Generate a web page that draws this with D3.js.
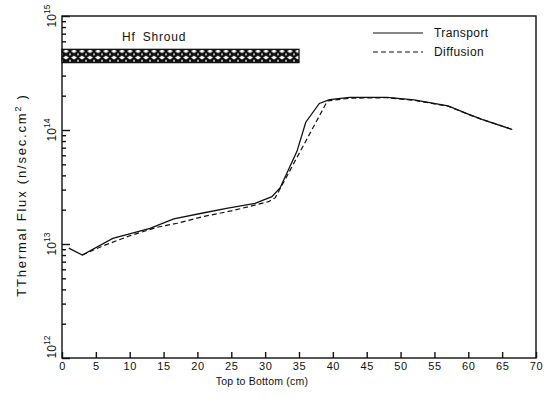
<!DOCTYPE html>
<html>
<head>
<meta charset="utf-8">
<script src="https://cdn.jsdelivr.net/npm/d3@7"></script>
<style>
  body { margin: 0; background: #fff; }
  text { font-family: "Liberation Sans", Arial, sans-serif; fill: #111; }
</style>
</head>
<body>
<div class="container"></div>
<script>
// tick labels
const xTicks = [0, 5, 10, 15, 20, 25, 30, 35, 40, 45, 50, 55, 60, 65, 70]
const yDecades = [12, 13, 14, 15]

// Transport (solid)
const transportX = [1, 3, 7.5, 13, 16.5, 21, 24.5, 28.5, 31, 32.2, 34.7, 36, 38, 39.5, 42.5, 48, 52, 57, 60, 62, 66.5]
const transportY = [9.2e12, 8.0e12, 1.12e13, 1.37e13, 1.66e13, 1.88e13, 2.06e13, 2.27e13, 2.6e13, 3.1e13, 6.5e13, 1.17e14, 1.71e14, 1.85e14, 1.93e14, 1.93e14, 1.84e14, 1.63e14, 1.38e14, 1.24e14, 1.01e14]

// Diffusion (dashed)
const diffusionX = [3, 6, 10, 14, 17, 21, 25, 30.5, 31.5, 39.2, 42.5, 48, 52, 57, 60, 62, 66.5]
const diffusionY = [8.0e12, 9.6e12, 1.18e13, 1.4e13, 1.52e13, 1.75e13, 1.95e13, 2.35e13, 2.55e13, 1.8e14, 1.9e14, 1.92e14, 1.82e14, 1.62e14, 1.37e14, 1.24e14, 1.01e14]

// Hf shroud band
const shroudX = [0, 35]
const shroudY = [3.9e14, 5.1e14]

const width = 550
const height = 401
const margin = { left: 62, top: 16, right: 14, bottom: 43 }
const plotW = width - margin.left - margin.right
const plotH = height - margin.top - margin.bottom
const ink = '#111'

const svg = d3.select('.container').append('svg')
  .attr('width', width).attr('height', height)

// crosshatch: black field with white diamonds
const pat = svg.append('defs').append('pattern')
  .attr('id', 'hatch').attr('patternUnits', 'userSpaceOnUse')
  .attr('width', 8).attr('height', 6.4)
pat.append('rect').attr('width', 8).attr('height', 6.4).attr('fill', ink)
pat.append('path')
  .attr('d', 'M4,1.4 L7,3.2 L4,5 L1,3.2 Z M-1,0 L0,-1.4 L1,0 L0,1.4 Z M7,0 L8,-1.4 L9,0 L8,1.4 Z M-1,6.4 L0,5 L1,6.4 L0,7.8 Z M7,6.4 L8,5 L9,6.4 L8,7.8 Z')
  .attr('fill', '#fff')

const g = svg.append('g').attr('transform', `translate(${margin.left},${margin.top})`)

const x = d3.scaleLinear().domain([0, 70]).range([0, plotW])
const y = d3.scaleLog().domain([1e12, 1e15]).range([plotH, 0])

// frame
g.append('rect').attr('width', plotW).attr('height', plotH)
  .attr('fill', 'none').attr('stroke', ink).attr('stroke-width', 1.4)

// x axis, ticks pointing inside
const xAxis = g.append('g').attr('transform', `translate(0,${plotH})`)
  .call(d3.axisBottom(x).tickValues(xTicks).tickSize(-6).tickPadding(4))
xAxis.select('.domain').remove()
xAxis.selectAll('text').attr('font-size', 11).attr('letter-spacing', 0.6)
  .style('font-family', '"Liberation Sans", Arial, sans-serif').attr('fill', ink)

// y axis: major + minor ticks pointing inside
const majorVals = yDecades.map(e => Math.pow(10, e))
const minorVals = []
yDecades.slice(0, -1).forEach(e => {
  for (let m = 2; m <= 9; m++) minorVals.push(m * Math.pow(10, e))
})
const yMajor = g.append('g')
  .call(d3.axisLeft(y).tickValues(majorVals).tickSize(-8).tickFormat(''))
const yMinor = g.append('g')
  .call(d3.axisLeft(y).tickValues(minorVals).tickSize(-4).tickFormat(''))
yMajor.select('.domain').remove()
yMinor.select('.domain').remove()
g.selectAll('.tick line').attr('stroke', ink).attr('stroke-width', 1.4)

// y tick labels: rotated 10^n
const yLab = g.selectAll('.ylab').data(yDecades).enter().append('text')
  .attr('class', 'ylab')
  .attr('transform', d => `translate(-6,${Math.min(y(Math.pow(10, d)), plotH - 11)}) rotate(-90)`)
  .attr('text-anchor', 'middle')
  .attr('font-size', 12)
yLab.append('tspan').text('10')
yLab.append('tspan').attr('dy', -6).attr('font-size', 8.5).text(d => d)

// shroud band
g.append('rect')
  .attr('x', x(shroudX[0])).attr('width', x(shroudX[1]) - x(shroudX[0]))
  .attr('y', y(shroudY[1])).attr('height', y(shroudY[0]) - y(shroudY[1]))
  .attr('fill', 'url(#hatch)').attr('stroke', ink).attr('stroke-width', 1.3)
g.append('text').attr('x', 60).attr('y', 25)
  .attr('font-size', 12).attr('letter-spacing', 0.8).attr('word-spacing', 3)
  .text('Hf Shroud')

// curves
const line = d3.line().x(d => x(d[0])).y(d => y(d[1]))
const transport = transportX.map((v, i) => [v, transportY[i]])
const diffusion = diffusionX.map((v, i) => [v, diffusionY[i]])

g.append('path').datum(transport).attr('d', line)
  .attr('fill', 'none').attr('stroke', ink).attr('stroke-width', 1.3)
g.append('path').datum(diffusion).attr('d', line)
  .attr('fill', 'none').attr('stroke', ink).attr('stroke-width', 1.2)
  .attr('stroke-dasharray', '5,3')

// legend
const legend = g.append('g').attr('transform', 'translate(311,17)')
legend.append('line').attr('x1', 0).attr('x2', 50).attr('y1', 0).attr('y2', 0)
  .attr('stroke', ink).attr('stroke-width', 1.2)
legend.append('line').attr('x1', 0).attr('x2', 50).attr('y1', 19).attr('y2', 19)
  .attr('stroke', ink).attr('stroke-width', 1.2).attr('stroke-dasharray', '5,3')
legend.append('text').attr('x', 61).attr('y', 4).attr('font-size', 12)
  .attr('letter-spacing', 0.4).text('Transport')
legend.append('text').attr('x', 61).attr('y', 23).attr('font-size', 12)
  .attr('letter-spacing', 0.4).text('Diffusion')

// axis titles
svg.append('text').attr('x', 262).attr('y', 385).attr('text-anchor', 'middle')
  .attr('font-size', 10.5).attr('letter-spacing', 0.2).text('Top to Bottom (cm)')
const yTitle = svg.append('text')
  .attr('transform', 'translate(26,195) rotate(-90)')
  .attr('text-anchor', 'middle').attr('font-size', 13).attr('letter-spacing', 1.8)
yTitle.append('tspan').text('TThermal Flux (n/sec.cm')
yTitle.append('tspan').attr('dy', -5).attr('font-size', 9).text('2')
yTitle.append('tspan').attr('dy', 5).text(' )')
</script>
</body>
</html>
